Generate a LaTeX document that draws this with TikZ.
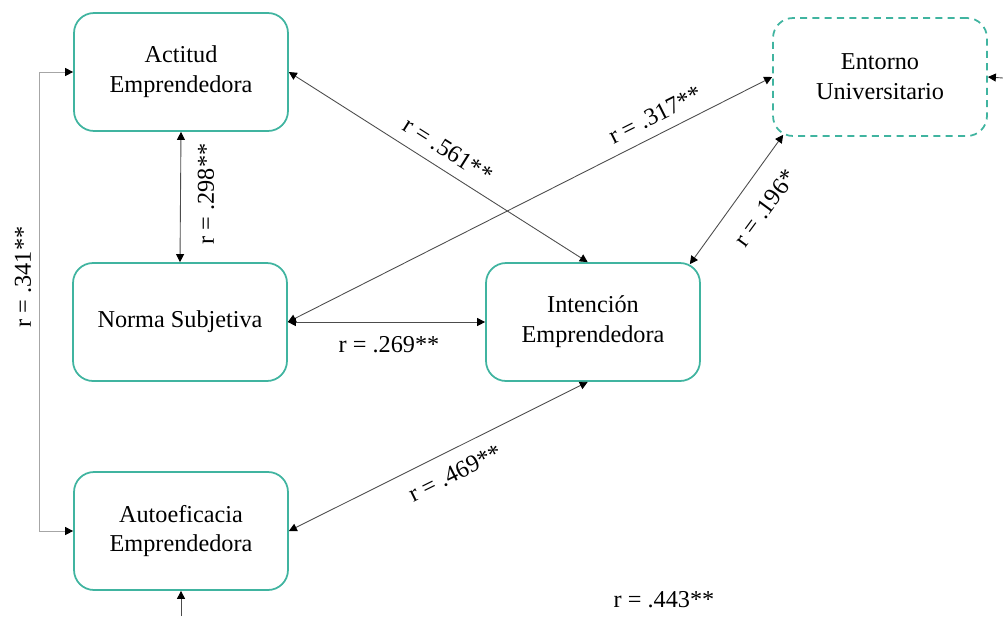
\documentclass[tikz,border=0pt]{standalone}
\usepackage{fontspec}
\setmainfont{Liberation Serif}
\usetikzlibrary{arrows.meta, calc}
\definecolor{verde}{RGB}{64,180,160}

\tikzset{
	caja/.style={draw=verde, line width=1pt, rounded corners=0.4cm, minimum width=4.28cm, minimum height=2.36cm, align=center, font=\fontsize{13.8}{17}\selectfont},
	cajaext/.style={caja, dash pattern=on 4pt off 3pt},
	punta/.tip={Triangle[length=0.16cm, width=0.16cm, color=black]},
	corr/.style={draw=black!70, line width=0.5pt, punta-punta},
	entra/.style={draw=black!70, line width=0.5pt, -punta},
	etiq/.style={font=\fontsize{13.8}{17}\selectfont, inner sep=0pt},
}

\begin{document}
\begin{tikzpicture}[x=0.02cm, y=-0.02cm]
		\useasboundingbox (0,0) rectangle (1003,616);

		% variables
		\node[caja] (act) at (181,72) {Actitud\\Emprendedora};
		\node[caja] (norma) at (180,322) {Norma Subjetiva};
		\node[caja] (auto) at (181,531) {Autoeficacia\\Emprendedora};
		\node[caja] (int) at (593,322) {Intención\\Emprendedora};
		\node[cajaext] (ent) at (880,77) {Entorno\\Universitario};

		% free ends of the cut connectors
		\coordinate (bajo) at (181,616);
		\coordinate (der) at (1003,78);

		% correlations
		\draw[corr] (act.south) -- (norma.north);
		\draw[corr] (act.east) -- ([xshift=-3]int.north);
		\draw[corr] (ent.west) -- (norma.east);
		\draw[corr] ([shift={(11,-2)}]ent.south west) -- ([shift={(-11,2)}]int.north east);
		\draw[corr] (norma.east) -- (int.west);
		\draw[corr] ([xshift=-3]int.south) -- (auto.east);
		\draw[corr, draw=black!35] (act.west) -- ++(-34,0) |- (auto.west);
		\draw[entra] (bajo) -- (auto.south);
		\draw[entra] (der) -- (ent.east);

		% labels
		\node[etiq, rotate=90] (l298) at (206,194) {r = .298**};
		\node[etiq, rotate=90] (l341) at (23,277) {r = .341**};
		\node[etiq, rotate=-32.3] (l561) at (448,150) {r = .561**};
		\node[etiq, rotate=26.6] (l317) at (655,115) {r = .317**};
		\node[etiq, rotate=53.7] (l196) at (765,208) {r = .196*};
		\node[etiq] (l269) at (389,345) {r = .269**};
		\node[etiq, rotate=26.4] (l469) at (455,473) {r = .469**};
		\node[etiq] (l443) at (664,600) {r = .443**};
\end{tikzpicture}
\end{document}
